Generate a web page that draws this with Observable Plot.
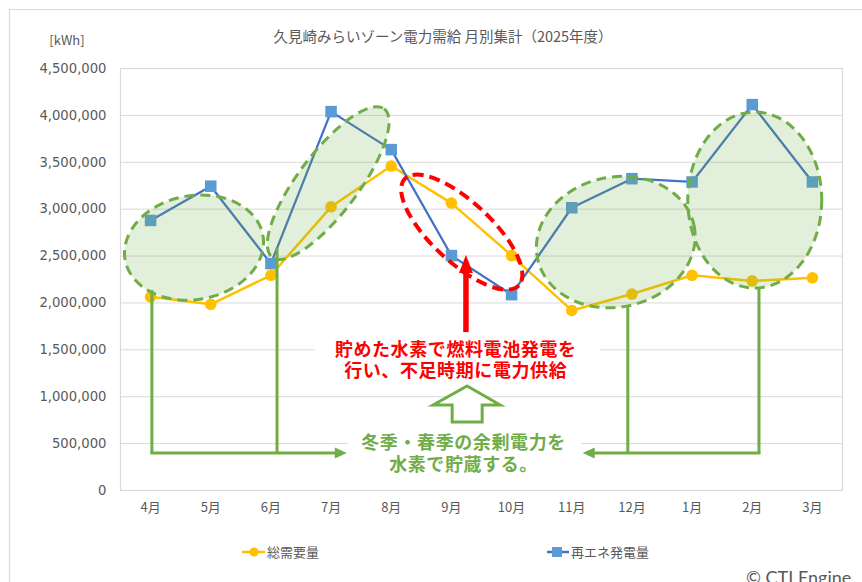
<!DOCTYPE html>
<html><head><meta charset="utf-8">
<script src="https://cdn.jsdelivr.net/npm/d3@7"></script>
<script src="https://cdn.jsdelivr.net/npm/@observablehq/plot@0.6"></script>
<style>
html,body{margin:0;padding:0;background:#fff;}
#chart svg{display:block;}
</style>
</head><body><div id="chart"></div>
<script>
// ---- data ----
const months = ["4月","5月","6月","7月","8月","9月","10月","11月","12月","1月","2月","3月"];
const demand = [2065000, 1985000, 2295000, 3025000, 3460000, 3065000, 2505000, 1920000, 2095000, 2295000, 2235000, 2268000];
const renewable = [2880000, 3245000, 2420000, 4040000, 3635000, 2505000, 2088000, 3015000, 3325000, 3290000, 4115000, 3290000];
const yTicks = [0, 500000, 1000000, 1500000, 2000000, 2500000, 3000000, 3500000, 4000000, 4500000];
const seriesNames = ["総需要量", "再エネ発電量"];
const titleText = "久見崎みらいゾーン電力需給 月別集計（2025年度）";
const unitText = "[kWh]";
const redNote = ["貯めた水素で燃料電池発電を", "行い、不足時期に電力供給"];
const greenNote = ["冬季・春季の余剰電力を", "水素で貯蔵する。"];
const credit = "© CTI Engine";

// annotation anchors (month index, kWh)
const surplusZones = [
  {i: 0.73, v: 2585000, rx: 70, ry: 52, rot: -10},
  {i: 2.96, v: 3273000, rx: 93, ry: 30, rot: -53},
  {i: 7.74, v: 2644000, rx: 80, ry: 65, rot: -12},
  {i: 10.05, v: 3092000, rx: 67, ry: 88, rot: 0}
];
const deficitZone = {i: 5.18, v: 2750000, rx: 78, ry: 30, rot: 43};

const rows = months.map((m, i) => ({i, month: m, demand: demand[i], renewable: renewable[i]}));

const JP = "'Noto Sans CJK JP', 'Noto Sans', sans-serif";
const GREEN = "#70ad47", RED = "#ff0000", GRAY = "#595959";

function annotations(index, scales) {
  const X = scales.x, Y = scales.y;
  const g = d3.create("svg:g");
  for (const e of surplusZones) {
    g.append("ellipse")
      .attr("transform", `translate(${X(e.i)},${Y(e.v)}) rotate(${e.rot})`)
      .attr("rx", e.rx).attr("ry", e.ry)
      .attr("fill", GREEN).attr("fill-opacity", 0.2)
      .attr("stroke", GREEN).attr("stroke-width", 3).attr("stroke-dasharray", "10 6");
  }
  g.append("ellipse")
    .attr("transform", `translate(${X(deficitZone.i)},${Y(deficitZone.v)}) rotate(${deficitZone.rot})`)
    .attr("rx", deficitZone.rx).attr("ry", deficitZone.ry)
    .attr("fill", "none").attr("stroke", RED).attr("stroke-width", 4).attr("stroke-dasharray", "11 6");

  const yH = Y(394000);
  const conn = g.append("g").attr("stroke", GREEN).attr("stroke-width", 3).attr("fill", "none");
  [[0.03, 2132000], [2.11, 2580000], [7.94, 1951000], [10.12, 2153000]].forEach(([i, v]) => {
    conn.append("line").attr("x1", X(i)).attr("x2", X(i)).attr("y1", Y(v)).attr("y2", yH);
  });
  const lx0 = X(0.03) - 1.5, lx1 = X(3.27);
  conn.append("line").attr("x1", lx0).attr("x2", lx1 - 11).attr("y1", yH).attr("y2", yH);
  g.append("path").attr("d", `M${lx1},${yH} L${lx1 - 12},${yH - 5.5} L${lx1 - 12},${yH + 5.5} Z`).attr("fill", GREEN);
  const rx0 = X(10.12) + 1.5, rx1 = X(7.19);
  conn.append("line").attr("x1", rx0).attr("x2", rx1 + 11).attr("y1", yH).attr("y2", yH);
  g.append("path").attr("d", `M${rx1},${yH} L${rx1 + 12},${yH - 5.5} L${rx1 + 12},${yH + 5.5} Z`).attr("fill", GREEN);

  g.append("rect").attr("x", X(2.74)).attr("y", Y(1674000))
    .attr("width", X(7.48) - X(2.74)).attr("height", Y(1109000) - Y(1674000)).attr("fill", "#fff");
  g.append("rect").attr("x", X(3.29)).attr("y", Y(693000))
    .attr("width", X(7.17) - X(3.29)).attr("height", Y(107000) - Y(693000)).attr("fill", "#fff");

  const ax = X(5.25), aTip = Y(2505000), aBase = Y(1684000);
  g.append("line").attr("x1", ax).attr("x2", ax).attr("y1", aBase).attr("y2", aTip + 14)
    .attr("stroke", RED).attr("stroke-width", 5.5);
  g.append("path").attr("d", `M${ax},${aTip} L${ax - 7},${aTip + 18} L${ax + 7},${aTip + 18} Z`).attr("fill", RED);

  redNote.forEach((t, k) => {
    g.append("text").attr("text-anchor", "middle").attr("fill", RED)
      .attr("font-family", JP).attr("font-weight", "bold").attr("font-size", 18).attr("letter-spacing", 0.6)
      .attr("x", X(5.08)).attr("y", Y([1493000, 1269000][k])).attr("dy", "0.36em").text(t);
  });

  const ux = X(5.27), uy = Y(1109000);
  g.append("path")
    .attr("d", `M${ux},${uy} L${ux + 33},${uy + 19} L${ux + 15},${uy + 19} L${ux + 15},${uy + 36} L${ux - 15},${uy + 36} L${ux - 15},${uy + 19} L${ux - 34},${uy + 19} Z`)
    .attr("fill", "#fff").attr("stroke", GREEN).attr("stroke-width", 3);

  greenNote.forEach((t, k) => {
    g.append("text").attr("text-anchor", "middle").attr("fill", GREEN)
      .attr("font-family", JP).attr("font-weight", "bold").attr("font-size", 18).attr("letter-spacing", 0.6)
      .attr("x", X(5.21)).attr("y", Y([501000, 277000][k])).attr("dy", "0.36em").text(t);
  });
  return g.node();
}

function chrome() {
  const g = d3.create("svg:g").attr("text-anchor", "start");
  g.append("path").attr("d", "M9.5,582 V9.5 H862").attr("fill", "none").attr("stroke", "#d9d9d9").attr("stroke-width", 1.2);
  g.append("text").attr("x", 443).attr("y", 42).attr("text-anchor", "middle")
    .attr("font-family", JP).attr("font-size", 14.5).attr("fill", GRAY).text(titleText);
  g.append("text").attr("x", 67).attr("y", 45).attr("text-anchor", "middle")
    .attr("font-family", JP).attr("font-size", 13).attr("fill", GRAY).text(unitText);
  // legend
  g.append("line").attr("x1", 242).attr("x2", 265).attr("y1", 552).attr("y2", 552).attr("stroke", "#ffc000").attr("stroke-width", 2.5);
  g.append("circle").attr("cx", 254).attr("cy", 552).attr("r", 4.5).attr("fill", "#ffc000");
  g.append("text").attr("x", 267).attr("y", 552).attr("dy", "0.36em").attr("text-anchor", "start")
    .attr("font-family", JP).attr("font-size", 13).attr("fill", GRAY).text(seriesNames[0]);
  g.append("line").attr("x1", 547).attr("x2", 569).attr("y1", 552).attr("y2", 552).attr("stroke", "#4472c4").attr("stroke-width", 2.5);
  g.append("rect").attr("x", 552).attr("y", 547).attr("width", 10).attr("height", 10).attr("fill", "#5b9bd5");
  g.append("text").attr("x", 571).attr("y", 552).attr("dy", "0.36em").attr("text-anchor", "start")
    .attr("font-family", JP).attr("font-size", 13).attr("fill", GRAY).text(seriesNames[1]);
  g.append("text").attr("x", 746).attr("y", 584).attr("text-anchor", "start")
    .attr("font-family", "Lato, 'Open Sans', sans-serif").attr("font-size", 18).attr("fill", GRAY).text(credit);
  return g.node();
}

const chart = Plot.plot({
  width: 862, height: 582,
  marginLeft: 120, marginRight: 20, marginTop: 68, marginBottom: 92,
  x: {domain: [-0.5, 11.5], axis: null},
  y: {domain: [0, 4500000], axis: null},
  style: {background: "#fff", overflow: "visible"},
  marks: [
    Plot.ruleY(yTicks.slice(1), {stroke: "#d9d9d9", strokeWidth: 1}),
    Plot.frame({stroke: "#d9d9d9", strokeWidth: 1.2}),
    Plot.text(yTicks, {y: d => d, frameAnchor: "left", dx: -14, textAnchor: "end",
      text: d => d3.format(",")(d), fontSize: 13.2, fill: GRAY, fontFamily: "'DejaVu Sans', sans-serif"}),
    Plot.text(rows, {x: "i", frameAnchor: "bottom", dy: 21, text: "month", fontSize: 13, fill: GRAY, fontFamily: JP}),
    Plot.line(rows, {x: "i", y: "demand", stroke: "#ffc000", strokeWidth: 2.5}),
    Plot.line(rows, {x: "i", y: "renewable", stroke: "#4472c4", strokeWidth: 2.25}),
    Plot.dot(rows, {x: "i", y: "demand", r: 5.8, fill: "#ffc000", stroke: null}),
    Plot.dot(rows, {x: "i", y: "renewable", symbol: "square", r: 6.5, fill: "#5b9bd5", stroke: null}),
    annotations,
    chrome
  ]
});
document.getElementById("chart").appendChild(chart);
</script>
</body></html>
